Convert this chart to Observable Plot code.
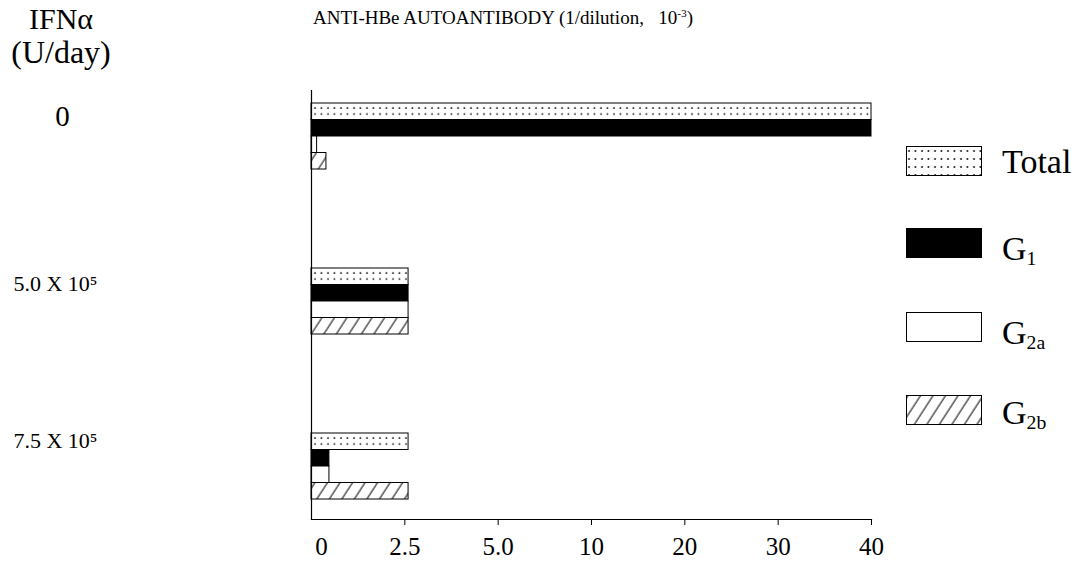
<!DOCTYPE html>
<html><head><meta charset="utf-8">
<script src="https://cdn.jsdelivr.net/npm/d3@7"></script>
<script src="https://cdn.jsdelivr.net/npm/@observablehq/plot@0.6"></script>
<style>
body{margin:0;background:#fff;font-family:"Liberation Serif",serif;}
#wrap{position:relative;width:1080px;height:563px;overflow:hidden;background:#fff}
.t{position:absolute;color:#000;white-space:nowrap;line-height:0.9;font-family:"Liberation Serif",serif}
sup{font-size:60%;vertical-align:0.6em;line-height:0}
sub{font-size:58%;vertical-align:-0.25em;line-height:0}
.sw{position:absolute;left:906px;width:76px;height:30px}
.lg{position:absolute;left:1002px;font-size:34px;line-height:1;font-family:"Liberation Serif",serif;white-space:nowrap}
</style></head><body>
<svg width="0" height="0" style="position:absolute">
<defs>
  <pattern id="dots" patternUnits="userSpaceOnUse" width="6.5" height="16.5">
    <rect width="6.5" height="16.5" fill="#fff"/>
    <circle cx="3" cy="5" r="0.9" fill="#000"/>
    <circle cx="3" cy="11" r="0.9" fill="#000"/>
  </pattern>
  <pattern id="dotsLeg" patternUnits="userSpaceOnUse" width="6.5" height="8">
    <rect width="6.5" height="8" fill="#fff"/>
    <circle cx="3" cy="5" r="0.9" fill="#000"/>
  </pattern>
  <pattern id="hatch" patternUnits="userSpaceOnUse" width="10.5" height="10" patternTransform="rotate(33)">
    <rect width="10.5" height="10" fill="#fff"/>
    <line x1="2" y1="-1" x2="2" y2="11" stroke="#000" stroke-width="1"/>
  </pattern>
</defs>
</svg>
<div id="wrap"></div>
<script>
// ---- data ----
const groups = ["0", "5.0 X 10\u2075", "7.5 X 10\u2075"];
const series = ["Total", "G1", "G2a", "G2b"];
const totalValues = [40, 2.6, 2.6];
const g1Values = [40, 2.6, 0.48];
const g2aValues = [0.15, 2.6, 0.48];
const g2bValues = [0.4, 2.6, 2.6];
const xTicks = [0, 2.5, 5, 10, 20, 30, 40];
const xTickLabels = ["0", "2.5", "5.0", "10", "20", "30", "40"];

const seriesValues = [totalValues, g1Values, g2aValues, g2bValues];
const rows = [];
groups.forEach((g, gi) => series.forEach((s, si) => rows.push({group: g, series: s, value: seriesValues[si][gi], key: g + "|" + s})));

// y band domain: bars of each group, spacer bands between groups
const yDomain = [];
groups.forEach((g, gi) => {
  series.forEach(s => yDomain.push(g + "|" + s));
  if (gi < groups.length - 1) for (let j = 0; j < 6; j++) yDomain.push("gap" + gi + "-" + j);
});

// the reference axis is piecewise: equal spacing between its tick values
const piecewise = d3.scaleLinear().domain(xTicks).range(xTicks.map((_, i) => i));
const labelOf = v => xTickLabels[xTicks.indexOf(v)];
const firstKey = g => g + "|" + series[0];

// group label styling (per label offsets / sizes)
const labelStyle = [
  {dx: -249, dy: 5, fontSize: 29},
  {dx: -256, dy: 7, fontSize: 22},
  {dx: -256, dy: -1, fontSize: 22}
];

const plot = Plot.plot({
  width: 1080,
  height: 563,
  marginLeft: 311,
  marginRight: 209,
  marginTop: 90,
  marginBottom: 44,
  style: {fontFamily: "Liberation Serif, serif", background: "#fff", color: "#000"},
  x: {type: "linear", transform: piecewise, domain: [0, xTicks.length - 1], axis: null, label: null},
  y: {domain: yDomain, padding: 0, round: false, insetTop: 13, insetBottom: 20, axis: null},
  color: {domain: series, range: ["url(#dots)", "#000", "#fff", "url(#hatch)"]},
  marks: [
    Plot.barX(rows, {x1: 0, x2: "value", y: "key", fill: "series", stroke: "#000", strokeWidth: 1}),
    Plot.frame({anchor: "left", stroke: "#000", strokeWidth: 1.2}),
    Plot.frame({anchor: "bottom", stroke: "#000", strokeWidth: 1.2}),
    Plot.axisX(xTicks.slice(1), {anchor: "bottom", label: null, tickSize: 6, tickPadding: 12, tickFormat: labelOf, fontSize: 25, stroke: "#000"}),
    Plot.axisX([0], {anchor: "bottom", label: null, tickSize: 0, tickPadding: 18, dx: 10, tickFormat: labelOf, fontSize: 25}),
    ...groups.map((g, i) => Plot.text([g], {
      y: firstKey, frameAnchor: "left", dx: labelStyle[i].dx, dy: labelStyle[i].dy,
      text: d => d, textAnchor: "middle", fontSize: labelStyle[i].fontSize, fill: "#000"
    }))
  ]
});

// align the dotted pattern rows with the bands through the y scale
const yScale = plot.scale("y");
document.getElementById("dots").setAttribute("y", yScale.apply(yDomain[0]));

const wrap = document.getElementById("wrap");
wrap.appendChild(plot);
plot.style.position = "absolute"; plot.style.left = "0"; plot.style.top = "0";

const html = `
<div class="t" style="left:0;width:122px;text-align:center;top:4px;line-height:29px"><span style="font-size:30px">IFN&alpha;</span><br><span style="font-size:32px">(U/day)</span></div>
<div class="t" style="left:313px;top:9px;font-size:19px">ANTI-HBe AUTOANTIBODY (1/dilution,&nbsp;&nbsp; 10<sup>-3</sup>)</div>
<svg class="sw" style="top:146px" viewBox="0 0 76 30"><rect x="0.5" y="0.5" width="75" height="29" fill="url(#dotsLeg)" stroke="#000"/></svg>
<div class="lg" style="top:145px">Total</div>
<svg class="sw" style="top:228px" viewBox="0 0 76 30"><rect x="0.5" y="0.5" width="75" height="29" fill="#000" stroke="#000"/></svg>
<div class="lg" style="top:232px">G<sub>1</sub></div>
<svg class="sw" style="top:312px" viewBox="0 0 76 30"><rect x="0.5" y="0.5" width="75" height="29" fill="#fff" stroke="#000"/></svg>
<div class="lg" style="top:316px">G<sub>2a</sub></div>
<svg class="sw" style="top:395px" viewBox="0 0 76 30"><rect x="0.5" y="0.5" width="75" height="29" fill="url(#hatch)" stroke="#000"/></svg>
<div class="lg" style="top:396px">G<sub>2b</sub></div>
`;
wrap.insertAdjacentHTML("beforeend", html);
</script>
</body></html>
